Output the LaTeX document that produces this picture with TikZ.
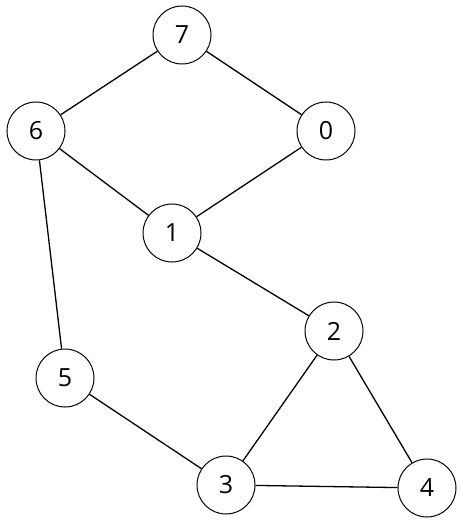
\documentclass[tikz,border=0pt]{standalone}
\usepackage{fontspec}
\setmainfont{Open Sans}
\usepackage{tikz}
\usetikzlibrary{positioning}

\begin{document}
\begin{tikzpicture}[
  x=1pt, y=-1pt,
  vtx/.style={circle, draw=black, fill=white, line width=1pt,
              minimum size=58pt, inner sep=0pt,
              font=\fontsize{25}{25}\selectfont},
  edg/.style={line width=1.3pt, black}
]
\useasboundingbox (0,0) rectangle (462,526);
\node[vtx] (n7) at (182,35)  {7};
\node[vtx] (n6) at (36,131)  {6};
\node[vtx] (n0) at (326,131) {0};
\node[vtx] (n1) at (172,233) {1};
\node[vtx] (n2) at (334,331) {2};
\node[vtx] (n5) at (65,378)  {5};
\node[vtx] (n3) at (226,485) {3};
\node[vtx] (n4) at (427,488) {4};

\draw[edg] (n7)--(n6); \draw[edg] (n7)--(n0);
\draw[edg] (n6)--(n1); \draw[edg] (n0)--(n1);
\draw[edg] (n6)--(n5); \draw[edg] (n1)--(n2);
\draw[edg] (n2)--(n3); \draw[edg] (n2)--(n4);
\draw[edg] (n5)--(n3); \draw[edg] (n3)--(n4);
\end{tikzpicture}
\end{document}
